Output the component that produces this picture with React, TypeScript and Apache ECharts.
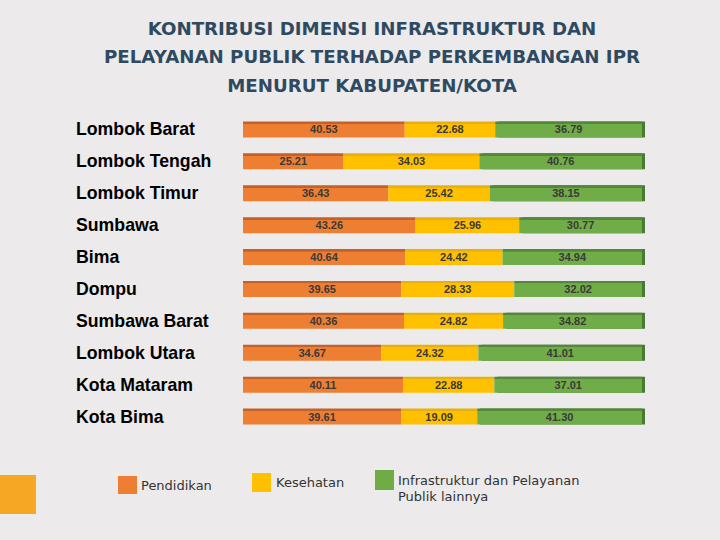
import React, { useEffect, useRef } from "react";
import * as echarts from "echarts";

const titleLines = [
  "KONTRIBUSI DIMENSI INFRASTRUKTUR DAN",
  "PELAYANAN PUBLIK TERHADAP PERKEMBANGAN IPR",
  "MENURUT KABUPATEN/KOTA",
];

const categories = [
  "Lombok Barat",
  "Lombok Tengah",
  "Lombok Timur",
  "Sumbawa",
  "Bima",
  "Dompu",
  "Sumbawa Barat",
  "Lombok Utara",
  "Kota Mataram",
  "Kota Bima",
];

const pendidikan = [40.53, 25.21, 36.43, 43.26, 40.64, 39.65, 40.36, 34.67, 40.11, 39.61];
const kesehatan = [22.68, 34.03, 25.42, 25.96, 24.42, 28.33, 24.82, 24.32, 22.88, 19.09];
const infrastruktur = [36.79, 40.76, 38.15, 30.77, 34.94, 32.02, 34.82, 41.01, 37.01, 41.3];

const seriesNames = ["Pendidikan", "Kesehatan", "Infrastruktur dan Pelayanan\nPublik lainnya"];

function topEdge(dark: string, main: string) {
  return new echarts.graphic.LinearGradient(0, 0, 0, 1, [
    { offset: 0, color: dark },
    { offset: 0.15, color: dark },
    { offset: 0.16, color: main },
    { offset: 1, color: main },
  ]);
}

export default function App() {
  const ref = useRef<HTMLDivElement>(null);
  useEffect(() => {
    document.body.style.margin = "0";
    const chart = echarts.init(ref.current!, null, { renderer: "svg" });
    const label = {
      show: true,
      position: "inside" as const,
      color: "#3a3a3a",
      fontSize: 11,
      fontWeight: "bold" as const,
      fontFamily: "Liberation Sans",
      formatter: (p: any) => Number(p.value).toFixed(2),
    };
    chart.setOption({
      animation: false,
      backgroundColor: "#ECEAEB",
      title: {
        text: titleLines.join("\n"),
        left: 367,
        top: 9,
        textAlign: "center",
        textStyle: {
          fontFamily: "DejaVu Sans",
          fontWeight: "bold",
          fontSize: 18.2,
          lineHeight: 28.5,
          color: "#2F4A60",
        },
      },
      grid: { left: 243, right: 78, top: 113.5, bottom: 107.5 },
      xAxis: {
        type: "value",
        min: 0,
        max: 100,
        show: false,
      },
      yAxis: {
        type: "category",
        data: categories,
        inverse: true,
        axisLine: { show: false },
        axisTick: { show: false },
        axisLabel: {
          margin: 167,
          align: "left",
          color: "#000",
          fontSize: 17.7,
          fontWeight: "bold",
          fontFamily: "Liberation Sans",
        },
      },
      series: [
        {
          name: seriesNames[0],
          type: "bar",
          stack: "t",
          barWidth: 16,
          data: pendidikan,
          itemStyle: { color: topEdge("#C2612A", "#EE7E32") },
          label,
        },
        {
          name: seriesNames[1],
          type: "bar",
          stack: "t",
          barWidth: 16,
          data: kesehatan,
          itemStyle: { color: topEdge("#E8B00A", "#FFC000") },
          label,
        },
        {
          name: seriesNames[2],
          type: "bar",
          stack: "t",
          barWidth: 16,
          data: infrastruktur,
          itemStyle: {
            color: topEdge("#52873A", "#6FAC46"),
            shadowColor: "#4A7A30",
            shadowOffsetX: 3,
            shadowOffsetY: 0,
            shadowBlur: 0,
          },
          label,
        },
      ],
      graphic: [
        { type: "rect", shape: { x: 0, y: 475, width: 36, height: 39 }, style: { fill: "#F6A723" } },
        { type: "rect", shape: { x: 118, y: 476, width: 19, height: 18 }, style: { fill: "#EE7E32" } },
        {
          type: "text",
          x: 141,
          y: 485,
          style: { text: seriesNames[0], fill: "#333", font: "13px 'DejaVu Sans'", verticalAlign: "middle" },
        },
        { type: "rect", shape: { x: 252, y: 473, width: 19, height: 19 }, style: { fill: "#FFC000" } },
        {
          type: "text",
          x: 276,
          y: 482,
          style: { text: seriesNames[1], fill: "#333", font: "13px 'DejaVu Sans'", verticalAlign: "middle" },
        },
        { type: "rect", shape: { x: 375, y: 470, width: 19, height: 20 }, style: { fill: "#6FAC46" } },
        {
          type: "text",
          x: 398,
          y: 472,
          style: {
            text: seriesNames[2],
            fill: "#333",
            font: "13px 'DejaVu Sans'",
            lineHeight: 16,
            verticalAlign: "top",
          },
        },
      ],
    });
    return () => chart.dispose();
  }, []);
  return <div ref={ref} style={{ width: 720, height: 540 }} />;
}
